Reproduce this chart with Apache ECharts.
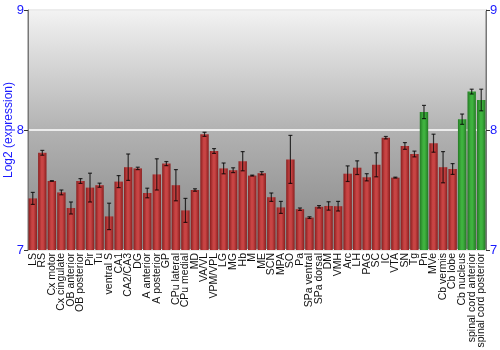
<!DOCTYPE html>
<html>
<head>
<meta charset="utf-8">
<script src="https://cdn.jsdelivr.net/npm/echarts@6/dist/echarts.min.js"></script>
<style>html,body{margin:0;padding:0;background:#fff}#c{width:500px;height:350px}</style>
</head>
<body>
<div id="c"></div>
<script>
var categories = ["LS","RS","Cx motor","Cx cingulate","OB anterior","OB posterior","Pir","Tu","ventral S","CA1","CA2/CA3","DG","A anterior","A posterior","GP","CPu lateral","CPu medial","MD","VA/VL","VPM/VPL","LG","MG","Hb","M","ME","SCN","MPA","SO","Pa","SPa ventral","SPa dorsal","DM","VMH","Arc","LH","PAG","SC","IC","VTA","SN","Tg","Pn","MVe","Cb vermis","Cb lobe","Cb nucleus","spinal cord anterior","spinal cord posterior"];
var values = [7.43,7.81,7.575,7.48,7.35,7.575,7.52,7.54,7.28,7.57,7.69,7.68,7.475,7.63,7.72,7.54,7.33,7.50,7.964,7.825,7.68,7.665,7.74,7.62,7.64,7.44,7.355,7.755,7.34,7.27,7.36,7.367,7.365,7.636,7.686,7.606,7.71,7.936,7.603,7.867,7.80,8.15,7.89,7.69,7.675,8.09,8.32,8.25];
var errors = [0.05,0.02,0.003,0.02,0.05,0.02,0.12,0.017,0.11,0.05,0.11,0.01,0.04,0.13,0.017,0.13,0.1,0.01,0.017,0.02,0.045,0.02,0.08,0.004,0.013,0.035,0.05,0.2,0.01,0.007,0.01,0.035,0.04,0.065,0.057,0.03,0.1,0.01,0.004,0.028,0.024,0.055,0.075,0.13,0.045,0.043,0.02,0.09];
var greenCategories = ["Pn","Cb nucleus","spinal cord anterior","spinal cord posterior"];
var yTicks = [7, 8, 9];
var yTitle = 'Log2 (expression)';

function grad(edge, mid) {
  return new echarts.graphic.LinearGradient(0, 0, 1, 0, [
    {offset: 0, color: edge}, {offset: 0.4, color: mid}, {offset: 0.6, color: mid}, {offset: 1, color: edge}
  ]);
}
var redFill = grad('#8a1e1e', '#c84444');
var greenFill = grad('#247a24', '#3fb23f');

var barData = values.map(function (v, i) {
  return {value: v, itemStyle: {color: greenCategories.indexOf(categories[i]) >= 0 ? greenFill : redFill}};
});
var errData = values.map(function (v, i) { return [i, v - errors[i], v + errors[i]]; });

var chart = echarts.init(document.getElementById('c'), null, {renderer: 'canvas'});
var yBase = {
  type: 'value', min: yTicks[0], max: yTicks[yTicks.length - 1], interval: 1,
  axisLabel: {color: '#1a1aff', fontSize: 13, fontFamily: 'Liberation Sans, Arial, sans-serif', margin: 4},
  axisTick: {show: true, length: 4, lineStyle: {color: '#333'}},
  axisLine: {show: true, lineStyle: {color: '#777'}},
  splitLine: {show: false}
};
chart.setOption({
  animation: false,
  graphic: [{
    type: 'text', x: 9, y: 130, rotation: Math.PI / 2,
    style: {text: yTitle, fill: '#1a1aff', font: '12px "Liberation Sans", Arial, sans-serif', align: 'center', verticalAlign: 'middle'}
  }],
  grid: {left: 28, right: 14, top: 10, bottom: 100, containLabel: false, outerBoundsMode: 'none',
    show: true, borderColor: '#777', borderWidth: 1,
    backgroundColor: new echarts.graphic.LinearGradient(0, 0, 0, 1, [
      {offset: 0, color: '#f3f3f3'}, {offset: 0.5, color: '#b2b2b2'}, {offset: 1, color: '#858585'}
    ])},
  xAxis: {
    type: 'category', data: categories,
    axisLabel: {rotate: 90, interval: 0, color: '#111', fontSize: 10.5, fontFamily: 'Liberation Sans, Arial, sans-serif', margin: 3},
    axisTick: {show: false}, axisLine: {show: false}
  },
  yAxis: [
    Object.assign({}, yBase, {position: 'left',
      splitLine: {show: true, lineStyle: {color: '#ececec', width: 2}}}),
    Object.assign({}, yBase, {position: 'right'})
  ],
  series: [
    {type: 'bar', data: barData, barCategoryGap: '12%', yAxisIndex: 0},
    {type: 'custom', yAxisIndex: 0, data: errData, z: 10,
      renderItem: function (params, api) {
        var x = api.value(0);
        var lo = api.coord([x, api.value(1)]);
        var hi = api.coord([x, api.value(2)]);
        var w = 2;
        var st = {stroke: 'rgba(0,0,0,0.75)', lineWidth: 1.2};
        return {type: 'group', children: [
          {type: 'line', shape: {x1: hi[0], y1: hi[1], x2: lo[0], y2: lo[1]}, style: st},
          {type: 'line', shape: {x1: hi[0] - w, y1: hi[1], x2: hi[0] + w, y2: hi[1]}, style: st},
          {type: 'line', shape: {x1: lo[0] - w, y1: lo[1], x2: lo[0] + w, y2: lo[1]}, style: st}
        ]};
      }}
  ]
});
</script>
</body>
</html>
